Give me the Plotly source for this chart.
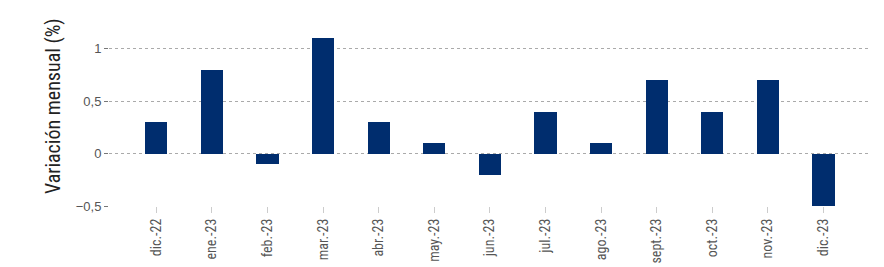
import plotly.graph_objects as go

categories = ["dic.-22", "ene.-23", "feb.-23", "mar.-23", "abr.-23", "may.-23", "jun.-23",
              "jul.-23", "ago.-23", "sept.-23", "oct.-23", "nov.-23", "dic.-23"]
values = [0.3, 0.8, -0.1, 1.1, 0.3, 0.1, -0.2, 0.4, 0.1, 0.7, 0.4, 0.7, -0.5]
y_tickvals = [-0.5, 0, 0.5, 1]
y_title = "Variación mensual (%)"

narrow = "Liberation Sans Narrow, Roboto Condensed, DejaVu Sans Condensed, sans-serif"

fig = go.Figure()
fig.add_trace(go.Bar(
    x=list(range(len(categories))), y=values,
    marker=dict(color="#002D6E", line=dict(width=0)),
    width=0.4,
))
fig.update_layout(
    width=884, height=267,
    margin=dict(l=109, r=16, t=38, b=61),
    paper_bgcolor="white", plot_bgcolor="white",
    separators=",.",
    showlegend=False,
    bargap=0,
)
fig.update_xaxes(
    tickmode="array", tickvals=list(range(len(categories))),
    ticktext=categories,
    tickangle=-90, range=[-0.85, 12.8],
    tickfont=dict(family=narrow, size=14, color="#555555"),
    showgrid=False, zeroline=False, showline=False,
    ticks="outside", ticklen=6, tickcolor="#cccccc", tickwidth=1,
    automargin=False,
)
fig.update_yaxes(
    range=[-0.5, 1.1], tickvals=y_tickvals,
    tickfont=dict(family="Liberation Sans, Roboto, sans-serif", size=13, color="#555555"),
    showgrid=True, gridcolor="#aaaaaa", griddash="dot", gridwidth=1,
    zeroline=False, showline=False,
    ticks="outside", ticklen=4, tickcolor="#777777",
    automargin=False,
)
fig.add_annotation(
    text=y_title, textangle=-90, showarrow=False,
    xref="paper", yref="paper", x=0, y=0.5,
    xanchor="center", yanchor="middle",
    xshift=-56, yshift=16,
    font=dict(family=narrow, size=20, color="#222222"),
)
fig.write_html("out.html")
